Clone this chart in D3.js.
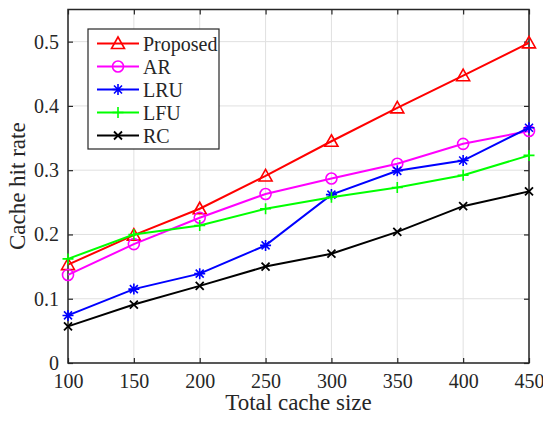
<!DOCTYPE html>
<html>
<head>
<meta charset="utf-8">
<script src="https://cdn.jsdelivr.net/npm/d3@7"></script>
<style>
  html, body { margin: 0; padding: 0; background: #fff; }
  svg { display: block; }
  text { font-family: "Liberation Serif", "Times New Roman", serif; fill: #262626; }
</style>
</head>
<body>
<div id="chart"></div>
<script>
const cacheSizes = [100, 150, 200, 250, 300, 350, 400, 450];
const proposed = [0.153, 0.199, 0.240, 0.291, 0.345, 0.397, 0.447, 0.498];
const ar = [0.137, 0.185, 0.226, 0.263, 0.287, 0.310, 0.341, 0.361];
const lru = [0.074, 0.115, 0.139, 0.183, 0.262, 0.299, 0.315, 0.366];
const lfu = [0.162, 0.200, 0.214, 0.240, 0.258, 0.273, 0.292, 0.323];
const rc = [0.057, 0.091, 0.120, 0.150, 0.170, 0.204, 0.244, 0.267];
const yTicks = [0, 0.1, 0.2, 0.3, 0.4, 0.5];

const series = [
  { name: "Proposed", values: proposed, color: "#ff0000", marker: "triangle" },
  { name: "AR", values: ar, color: "#ff00ff", marker: "circle" },
  { name: "LRU", values: lru, color: "#0000ff", marker: "asterisk" },
  { name: "LFU", values: lfu, color: "#00ff00", marker: "plus" },
  { name: "RC", values: rc, color: "#000000", marker: "cross" },
];

const width = 543, height = 424;
const margin = { top: 9.5, right: 14, bottom: 61, left: 68 };
const innerW = width - margin.left - margin.right;
const innerH = height - margin.top - margin.bottom;

const svg = d3.select("#chart").append("svg")
  .attr("width", width).attr("height", height);

const x = d3.scaleLinear().domain([100, 450]).range([0, innerW]);
const y = d3.scaleLinear().domain([0, 0.55]).range([innerH, 0]);

const g = svg.append("g").attr("transform", `translate(${margin.left},${margin.top})`);

// grid
g.append("g").selectAll("line").data(cacheSizes).join("line")
  .attr("x1", d => x(d)).attr("x2", d => x(d))
  .attr("y1", 0).attr("y2", innerH)
  .attr("stroke", "#e0e0e0").attr("stroke-width", 1);
g.append("g").selectAll("line").data(yTicks).join("line")
  .attr("y1", d => y(d)).attr("y2", d => y(d))
  .attr("x1", 0).attr("x2", innerW)
  .attr("stroke", "#e0e0e0").attr("stroke-width", 1);

// axes
const axisColor = "#262626";
const styleAxis = sel => {
  sel.select(".domain").remove();
  sel.selectAll(".tick line").attr("stroke", axisColor).attr("stroke-width", 1.2);
  sel.selectAll(".tick text").style("font-size", "20px")
    .style("font-family", "'Liberation Serif', serif").attr("fill", axisColor);
};

g.append("g").attr("transform", `translate(0,${innerH})`)
  .call(d3.axisBottom(x).tickValues(cacheSizes).tickSize(-5).tickPadding(11))
  .call(styleAxis);
g.append("g")
  .call(d3.axisTop(x).tickValues(cacheSizes).tickSize(-5).tickFormat(""))
  .call(styleAxis);
g.append("g")
  .call(d3.axisLeft(y).tickValues(yTicks).tickSize(-5).tickPadding(9)
    .tickFormat(d => d === 0 ? "0" : d3.format(".1f")(d)))
  .call(styleAxis);
g.append("g").attr("transform", `translate(${innerW},0)`)
  .call(d3.axisRight(y).tickValues(yTicks).tickSize(-5).tickFormat(""))
  .call(styleAxis);

g.append("rect").attr("width", innerW).attr("height", innerH)
  .attr("fill", "none").attr("stroke", axisColor).attr("stroke-width", 1.5);

// markers
function drawMarker(sel, type, color) {
  if (type === "triangle") {
    sel.append("path").attr("d", "M0,-6.5L6.5,5L-6.5,5Z")
      .attr("fill", "none").attr("stroke", color).attr("stroke-width", 1.6);
  } else if (type === "circle") {
    sel.append("circle").attr("r", 5.5)
      .attr("fill", "none").attr("stroke", color).attr("stroke-width", 1.6);
  } else if (type === "asterisk") {
    sel.append("path").attr("d", "M-5.5,0H5.5M0,-5.5V5.5M-4,-4L4,4M-4,4L4,-4")
      .attr("stroke", color).attr("stroke-width", 1.6);
  } else if (type === "plus") {
    sel.append("path").attr("d", "M-5.5,0H5.5M0,-5.5V5.5")
      .attr("stroke", color).attr("stroke-width", 1.6);
  } else if (type === "cross") {
    sel.append("path").attr("d", "M-4,-4L4,4M-4,4L4,-4")
      .attr("stroke", color).attr("stroke-width", 1.8);
  }
}

const line = d3.line().x((d, i) => x(cacheSizes[i])).y(d => y(d));

series.forEach(s => {
  g.append("path").datum(s.values)
    .attr("d", line).attr("fill", "none")
    .attr("stroke", s.color).attr("stroke-width", 2);
  g.append("g").selectAll("g").data(s.values).join("g")
    .attr("transform", (d, i) => `translate(${x(cacheSizes[i])},${y(d)})`)
    .each(function () { drawMarker(d3.select(this), s.marker, s.color); });
});

// axis labels
svg.append("text")
  .attr("x", margin.left + innerW / 2).attr("y", 410)
  .attr("text-anchor", "middle").style("font-size", "23px")
  .text("Total cache size");
svg.append("text")
  .attr("transform", `translate(25,${margin.top + innerH / 2}) rotate(-90)`)
  .attr("text-anchor", "middle").style("font-size", "23px")
  .text("Cache hit rate");

// legend
const lg = svg.append("g").attr("transform", "translate(88,29)");
lg.append("rect").attr("width", 131).attr("height", 120)
  .attr("fill", "#fff").attr("stroke", axisColor).attr("stroke-width", 1.2);
series.forEach((s, i) => {
  const row = lg.append("g").attr("transform", `translate(0,${14.5 + i * 23})`);
  row.append("line").attr("x1", 9).attr("x2", 51)
    .attr("stroke", s.color).attr("stroke-width", 2);
  const m = row.append("g").attr("transform", "translate(30,0)");
  drawMarker(m, s.marker, s.color);
  row.append("text").attr("x", 55).attr("y", 7)
    .style("font-size", "20px").attr("fill", "#000").text(s.name);
});
</script>
</body>
</html>
